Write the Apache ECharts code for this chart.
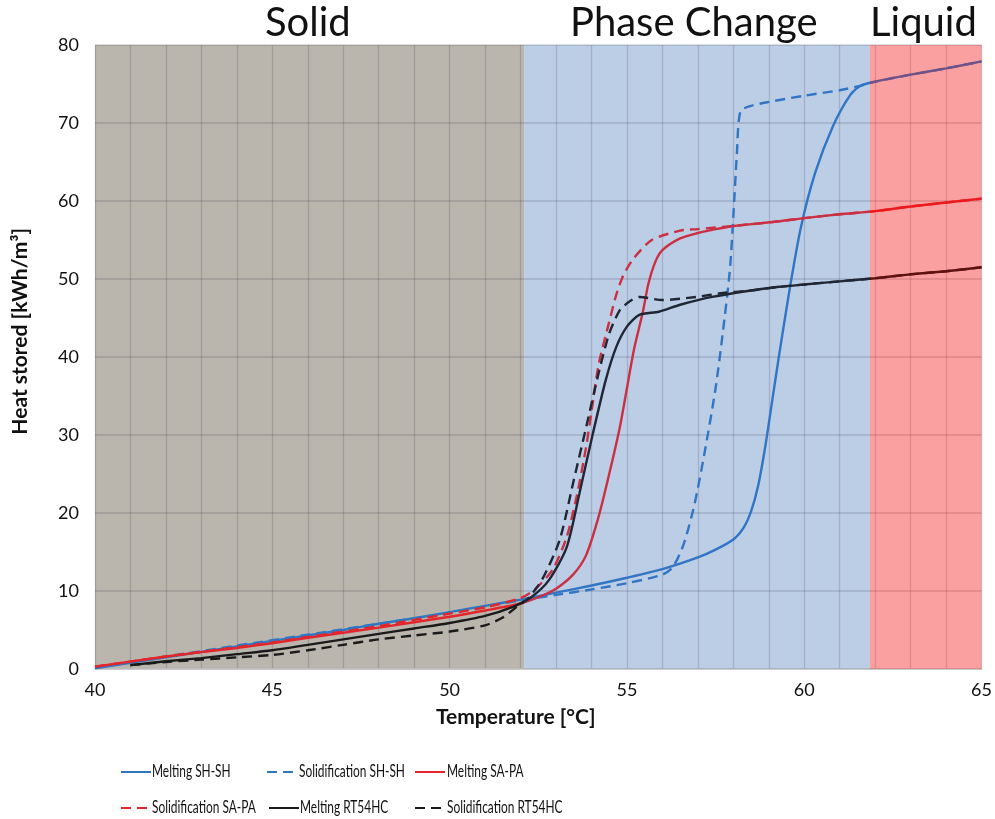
<!DOCTYPE html>
<html>
<head>
<meta charset="utf-8">
<script src="https://cdn.jsdelivr.net/npm/echarts@6/dist/echarts.min.js"></script>
<style>
  html, body { margin: 0; padding: 0; background: #fff; }
  #main { width: 995px; height: 819px; }
</style>
</head>
<body>
<div id="main"></div>
<script>
var dom = document.getElementById("main");
var myChart = echarts.init(dom);

// phase regions (temperature °C)
var solidZone = [40, 52.1];
var phaseZone = [52.1, 61.85];
var liquidZone = [61.85, 65];

var xTicks = [40, 45, 50, 55, 60, 65];
var yTicks = [0, 10, 20, 30, 40, 50, 60, 70, 80];

// [temperature, heat stored]
var meltSHSH = [[40,0.1],[41,0.8],[42,1.5],[43,2.2],[44,2.9],[45,3.6],[46,4.3],[47,5.0],[48,5.8],[49,6.5],[50,7.3],[51,8.1],[52,8.9],[53,9.8],[54,10.7],[55,11.7],[56,12.8],[57,14.3],[57.5,15.3],[58,16.6],[58.3,18.2],[58.5,20.2],[58.7,23.5],[58.9,28.5],[59.1,34.5],[59.3,40.5],[59.6,49],[59.9,56.5],[60.3,63.5],[60.8,69.5],[61.3,73.6],[61.6,74.8],[62,75.3],[63,76.2],[64,77.0],[65,77.9]];
var solidSHSH = [[40,0.2],[42,1.6],[44,3.0],[46,4.4],[48,5.8],[50,7.2],[52,8.8],[53,9.5],[54,10.2],[55,11.0],[56,12.1],[56.3,13.1],[56.6,16],[56.9,21],[57.2,28],[57.5,36],[57.7,43],[57.9,51],[58.0,58],[58.1,66],[58.2,71.5],[58.5,72.2],[59,72.7],[60,73.5],[61,74.2],[61.6,74.8],[62,75.3],[63,76.2],[64,77],[65,77.9]];
var meltSAPA = [[40,0.3],[42,1.6],[44,2.7],[45,3.3],[46,4.0],[48,5.3],[50,6.7],[51,7.5],[52,8.4],[52.5,9.2],[53,10.3],[53.5,12.2],[53.85,14.6],[54.2,19.5],[54.5,25],[54.8,31],[55.0,36],[55.2,41],[55.45,45.8],[55.6,49.3],[55.8,52.2],[56,53.7],[56.5,55.2],[57,55.9],[57.4,56.3],[58,56.8],[59.3,57.4],[60,57.8],[61,58.3],[62,58.7],[63,59.3],[64,59.8],[65,60.3]];
var solidSAPA = [[40,0.3],[42,1.6],[44,2.8],[45,3.4],[46,4.1],[48,5.5],[50,7.1],[51,7.9],[52,9.1],[52.4,10.2],[52.9,12.7],[53.3,16.9],[53.6,22.5],[53.85,28.5],[54.0,33],[54.2,39],[54.5,44.5],[54.7,48],[54.9,50.5],[55.2,52.7],[55.7,55],[56.5,56.2],[57,56.4],[58,56.8],[59.3,57.4],[60,57.8],[61,58.3],[62,58.7],[63,59.3],[64,59.8],[65,60.3]];
var meltRT = [[41,0.5],[42,1.0],[43,1.4],[44,1.9],[45,2.4],[46,3.1],[47,3.8],[48,4.5],[49,5.2],[50,5.9],[51,6.8],[51.8,8.0],[52.3,9.2],[52.8,11.4],[53.3,15.6],[53.66,22.5],[54.0,29.4],[54.4,37],[54.7,41.3],[55.0,43.9],[55.35,45.4],[55.9,45.8],[56.5,46.7],[57.4,47.7],[58.45,48.5],[59.3,49],[60,49.3],[61,49.7],[62,50.1],[63,50.6],[64,51.0],[65,51.5]];
var solidRT = [[41,0.5],[42,0.9],[43,1.2],[44,1.5],[45,1.8],[46,2.4],[47,3.1],[48,3.8],[49,4.3],[50,4.8],[51,5.6],[51.5,6.6],[51.9,8.0],[52.2,9.0],[52.6,11.4],[53.1,16.5],[53.5,24.2],[53.85,31],[54.2,37.9],[54.5,43],[54.8,46],[55.1,47.2],[55.35,47.7],[56.0,47.3],[56.95,47.7],[57.7,48.2],[58.45,48.5],[59.3,49],[60,49.3],[61,49.7],[62,50.1],[63,50.6],[64,51],[65,51.5]];

var font = 'Lato, "Open Sans", sans-serif';
var blue = '#2f77c3', red = '#e3262b', black = '#1a1a1a';

function curve(name, data, color, dashed) {
    return {
        name: name,
        type: 'line',
        z: 3,
        data: data,
        smooth: 0.25,
        showSymbol: false,
        symbol: 'none',
        lineStyle: { color: color, width: 2.4, type: dashed ? [10, 6] : 'solid' },
        itemStyle: { color: color }
    };
}

// legend: icon from the legend component, condensed label drawn beside it
function legendItem(name, left, top) {
    return {
        data: [name], left: left, top: top, padding: 0,
        itemWidth: 30, itemHeight: 14, itemGap: 0,
        itemStyle: { opacity: 0 },
        formatter: function () { return ''; },
        textStyle: { fontSize: 1 }
    };
}
function legendLabel(text, x, y) {
    return {
        type: 'text', x: x, y: y, scaleX: 0.7,
        style: { text: text, font: '17px ' + font, fill: '#111', textVerticalAlign: 'middle' }
    };
}

option = {
    animation: false,
    grid: { left: 95, right: 12, top: 45, bottom: 150 },
    legend: [
        legendItem('Melting SH-SH', 120, 765),
        legendItem('Solidification SH-SH', 266, 765),
        legendItem('Melting SA-PA', 414, 765),
        legendItem('Solidification SA-PA', 120, 801),
        legendItem('Melting RT54HC', 268, 801),
        legendItem('Solidification RT54HC', 414, 801)
    ],
    xAxis: {
        type: 'value', min: 40, max: 65, interval: 1, z: 2,
        axisLine: { show: true, lineStyle: { color: '#c4c4c4', width: 1.5 } },
        axisTick: { show: false },
        splitLine: { show: true, lineStyle: { color: 'rgba(60,60,70,0.2)', width: 1.3 } },
        axisLabel: {
            fontFamily: font, fontSize: 18, color: '#111', margin: 12,
            formatter: function (v) { return xTicks.indexOf(v) >= 0 ? String(v) : ''; }
        }
    },
    yAxis: {
        type: 'value', min: 0, max: 80, interval: 10, z: 2,
        axisLine: { show: false },
        axisTick: { show: false },
        splitLine: { show: true, lineStyle: { color: 'rgba(60,60,70,0.22)', width: 1.5 } },
        axisLabel: {
            fontFamily: font, fontSize: 18, color: '#111', margin: 16,
            formatter: function (v) { return yTicks.indexOf(v) >= 0 ? String(v) : ''; }
        }
    },
    graphic: [
        { type: 'text', left: 265, top: 3, style: { text: 'Solid', font: '40px ' + font, fill: '#111' } },
        { type: 'text', left: 570, top: 3, style: { text: 'Phase Change', font: '40px ' + font, fill: '#111' } },
        { type: 'text', left: 870, top: 3, style: { text: 'Liquid', font: '40px ' + font, fill: '#111' } },
        { type: 'text', left: 436, top: 707, style: { text: 'Temperature [°C]', font: 'bold 21px ' + font, fill: '#111' } },
        { type: 'text', left: 10, top: 228, rotation: Math.PI / 2, style: { text: 'Heat stored [kWh/m³]', font: 'bold 21px ' + font, fill: '#111' } },
        legendLabel('Melting SH-SH', 152, 772),
        legendLabel('Solidification SH-SH', 299, 772),
        legendLabel('Melting SA-PA', 447, 772),
        legendLabel('Solidification SA-PA', 152, 808),
        legendLabel('Melting RT54HC', 300, 808),
        legendLabel('Solidification RT54HC', 447, 808)
    ],
    series: [
        {
            name: 'zones', type: 'line', z: 1, data: [[40, 0]], symbol: 'none', silent: true,
            lineStyle: { opacity: 0 },
            markArea: {
                silent: true, z: 1,
                data: [
                    [{ xAxis: solidZone[0], itemStyle: { color: '#bab6ae' } }, { xAxis: solidZone[1] }],
                    [{ xAxis: phaseZone[0], itemStyle: { color: '#d3dfeb' } }, { xAxis: phaseZone[1] }],
                    [{ xAxis: liquidZone[0], itemStyle: { color: '#f9e6e6' } }, { xAxis: liquidZone[1] }]
                ]
            }
        },
        {
            // translucent tint laid over the curves, as in the original figure
            name: 'tint', type: 'line', z: 5, data: [[40, 0]], symbol: 'none', silent: true,
            lineStyle: { opacity: 0 },
            markArea: {
                silent: true, z: 5,
                data: [
                    [{ xAxis: phaseZone[0], itemStyle: { color: 'rgba(60,110,200,0.15)' } }, { xAxis: phaseZone[1] }],
                    [{ xAxis: liquidZone[0], itemStyle: { color: 'rgba(255,0,0,0.3)' } }, { xAxis: liquidZone[1] }]
                ]
            }
        },
        curve('Melting SH-SH', meltSHSH, blue, false),
        curve('Solidification SH-SH', solidSHSH, blue, true),
        curve('Melting SA-PA', meltSAPA, red, false),
        curve('Solidification SA-PA', solidSAPA, red, true),
        curve('Melting RT54HC', meltRT, black, false),
        curve('Solidification RT54HC', solidRT, black, true)
    ]
};

if (option && typeof option === "object") {
    myChart.setOption(option, true);
}
</script>
</body>
</html>
